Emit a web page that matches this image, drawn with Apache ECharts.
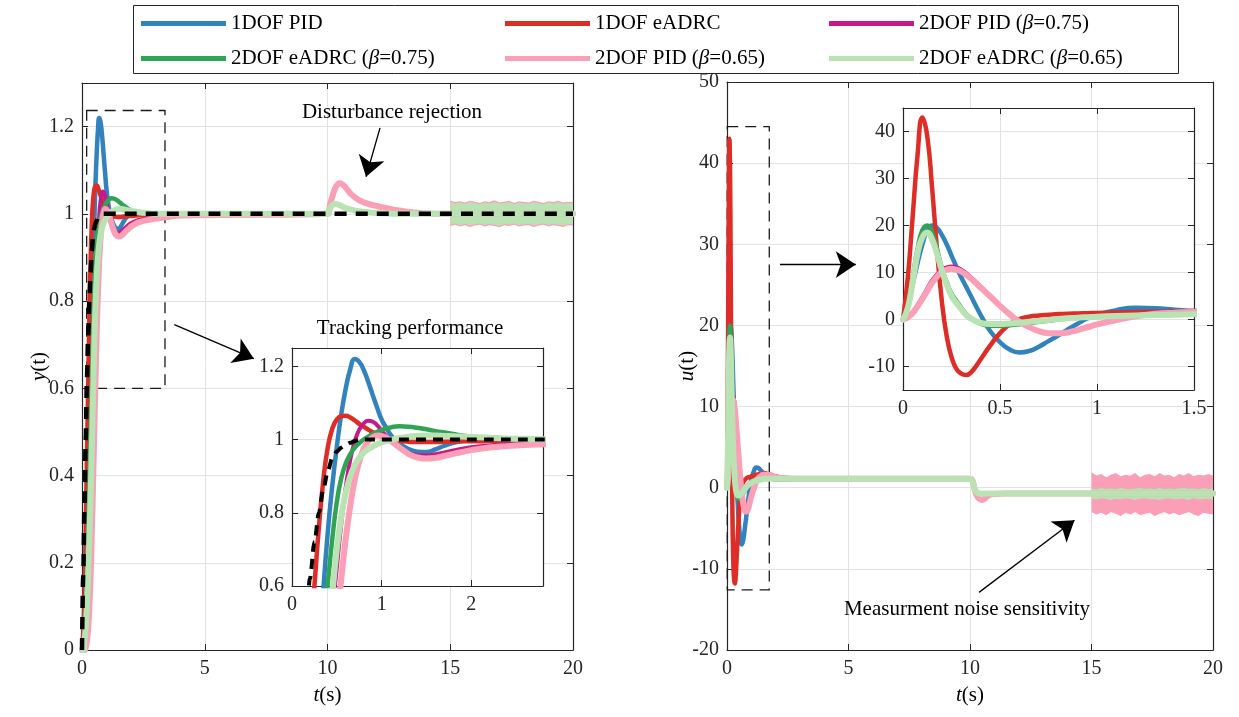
<!DOCTYPE html>
<html><head><meta charset="utf-8">
<script src="https://cdn.jsdelivr.net/npm/echarts@6/dist/echarts.min.js"></script>
<style>html,body{margin:0;padding:0;background:#fff}#c{width:1239px;height:717px}</style>
</head><body><div id="c"></div>
<script>
// ---------------- DATA ----------------
const names = ['1DOF PID','1DOF eADRC','2DOF PID (β=0.75)','2DOF eADRC (β=0.75)','2DOF PID (β=0.65)','2DOF eADRC (β=0.65)'];
// output y(t), early part
const tY = [0,0.05,0.1,0.15,0.2,0.25,0.3,0.35,0.4,0.45,0.5,0.55,0.6,0.65,0.7,0.75,0.8,0.85,0.9,0.95,1.0,1.1,1.2,1.3,1.4,1.5,1.6,1.7,1.8,1.9,2.0,2.2,2.4,2.6,2.8,3.0,3.5,4.0];
const yRef   = [0,0.17,0.33,0.48,0.62,0.72,0.8,0.865,0.915,0.95,0.967,0.978,0.985,0.991,0.996,0.999,1,1,1,1,1, 1,1,1,1,1,1,1,1,1,1, 1,1,1,1,1,1,1];
const yBlue  = [0,0,0.01,0.04,0.1,0.22,0.4,0.59,0.75,0.875,0.98,1.07,1.14,1.192,1.22,1.212,1.19,1.158,1.122,1.087,1.055, 1.013,0.989,0.974,0.967,0.966,0.973,0.983,0.991,0.996,0.999, 1,1,1,1,1,1,1];
const yRed   = [0,0.04,0.13,0.27,0.44,0.6,0.76,0.89,0.98,1.03,1.055,1.064,1.065,1.06,1.052,1.043,1.035,1.027,1.02,1.013,1.007, 1.0,0.996,0.994,0.993,0.993,0.993,0.994,0.994,0.995,0.995, 0.996,0.997,0.997,0.998,0.998,0.999,1.0];
const yMag   = [0,0,0.005,0.02,0.05,0.1,0.18,0.28,0.4,0.53,0.65,0.77,0.87,0.945,0.995,1.027,1.044,1.051,1.049,1.039,1.024, 0.997,0.977,0.964,0.958,0.957,0.96,0.965,0.97,0.975,0.979, 0.984,0.987,0.989,0.99,0.991,0.994,0.997];
const yGreen = [0,0.01,0.04,0.1,0.18,0.28,0.39,0.5,0.61,0.73,0.83,0.895,0.935,0.96,0.978,0.99,1.0,1.008,1.015,1.021,1.026, 1.033,1.036,1.035,1.032,1.028,1.023,1.019,1.015,1.011,1.008, 1.004,1.002,1.001,1.0,1.0,1.0,1.0];
const yPink  = [0,0,0,0.005,0.02,0.05,0.1,0.17,0.27,0.38,0.5,0.62,0.73,0.82,0.89,0.94,0.975,0.995,1.006,1.011,1.01, 0.997,0.978,0.961,0.951,0.948,0.95,0.955,0.961,0.966,0.971, 0.978,0.982,0.985,0.987,0.989,0.993,0.996];
const yLG    = [0,0,0.02,0.05,0.1,0.17,0.26,0.35,0.46,0.58,0.7,0.79,0.855,0.9,0.93,0.95,0.964,0.974,0.981,0.987,0.992, 0.999,1.004,1.008,1.01,1.011,1.011,1.01,1.009,1.008,1.007, 1.005,1.003,1.002,1.001,1.0,1.0,1.0];
// output y(t), disturbance part
const tYLate    = [10,10.1,10.2,10.3,10.4,10.5,10.6,10.7,10.8,11.0,11.3,11.6,12.0,12.5,13.0,13.5,14.0,15.0,20.0];
const yDistPID  = [1.0,1.02,1.04,1.057,1.067,1.07,1.068,1.063,1.056,1.043,1.031,1.024,1.018,1.012,1.007,1.003,1.001,1.0,1.0];
const yDistADRC = [1.0,1.012,1.02,1.023,1.022,1.02,1.017,1.014,1.012,1.009,1.006,1.004,1.002,1.001,1.0,1.0,1.0,1.0,1.0];
// control u(t), early part
const tU = [0,0.025,0.05,0.075,0.1,0.125,0.15,0.175,0.2,0.225,0.25,0.275,0.3,0.325,0.35,0.4,0.45,0.5,0.55,0.6,0.65,0.7,0.75,0.8,0.85,0.9,0.95,1.0,1.1,1.2,1.3,1.4,1.5,1.7,2.0,2.5,3.0,4.0];
const uBlue  = [0,3,7.5,12,16,19,20,19.5,18,16,13.6,11.2,9,7,5, 1,-2.5,-4.8,-6.4,-7.0,-6.7,-5.8,-4.6,-3.4,-2.1,-0.9,0.2,1.0, 2.0,2.5,2.4,2.1,1.8, 1.3,1.0,1.0,1.1,1.1];
const uRed   = [0,9,22,35,43,39,28,15,4,-3.5,-8,-10.5,-11.5,-11.8,-11.3, -8.5,-5.5,-2.9,-1.0,0.1,0.6,0.85,1.0,1.15,1.25,1.3,1.35,1.4, 1.5,1.6,1.65,1.7,1.8, 1.7,1.4,1.2,1.1,1.1];
const uMag   = [0,0.6,1.6,3.1,4.8,6.6,8.3,9.6,10.6,11.1,11.3,11.1,10.6,9.9,9.0, 7.0,5.0,3.0,1.2,-0.4,-1.6,-2.5,-2.95,-3.0,-2.8,-2.3,-1.7,-1.1, -0.1,0.7,1.2,1.5,1.65, 1.6,1.3,1.15,1.1,1.1];
const uGreen = [0,3,9,15,19,20,18.5,15,11,8,5.5,4,2.5,1.2,0.3, -0.9,-1.35,-1.35,-1.2,-1.0,-0.75,-0.5,-0.25,0,0.2,0.35,0.5,0.6, 0.75,0.85,0.95,1.0,1.1, 1.1,1.1,1.1,1.1,1.1];
const uPink  = [0,0.5,1.4,2.8,4.4,6.1,7.8,9.1,10.1,10.6,10.8,10.6,10.2,9.5,8.7, 6.8,4.9,2.9,1.1,-0.5,-1.6,-2.45,-2.9,-2.95,-2.75,-2.25,-1.65,-1.05, -0.1,0.7,1.2,1.45,1.6, 1.6,1.3,1.15,1.1,1.1];
const uLG    = [0,2.5,8,14,17.5,18.5,17,14,10.5,7.5,5,3.5,2.2,1.0,0.2, -0.7,-0.95,-0.95,-0.85,-0.7,-0.5,-0.3,-0.1,0.1,0.25,0.4,0.5,0.6, 0.75,0.85,0.95,1.0,1.1, 1.1,1.1,1.1,1.1,1.1];
// control u(t), disturbance part
const tULate    = [10,10.1,10.2,10.3,10.4,10.5,10.6,10.7,10.8,11,11.5,12,15,20];
const uDistPID  = [1.1,0.9,-0.3,-1.1,-1.4,-1.5,-1.35,-1.1,-0.9,-0.78,-0.72,-0.72,-0.72,-0.72];
const uDistADRC = [1.1,0.85,-0.2,-0.62,-0.72,-0.74,-0.73,-0.72,-0.72,-0.72,-0.72,-0.72,-0.72,-0.72];
// measurement-noise envelopes (t >= 15)
const tNoise = [15,15.2,15.4,15.6,15.8,16,16.2,16.4,16.6,16.8,17,17.2,17.4,17.6,17.8,18,18.2,18.4,18.6,18.8,19,19.2,19.4,19.6,19.8,20];
const yHiP = [1.03,1.027,1.029,1.026,1.03,1.028,1.025,1.029,1.027,1.031,1.026,1.028,1.03,1.025,1.029,1.027,1.026,1.03,1.028,1.025,1.029,1.027,1.03,1.026,1.028,1.027];
const yLoP = [0.972,0.975,0.971,0.974,0.97,0.973,0.975,0.971,0.974,0.972,0.969,0.974,0.972,0.975,0.971,0.973,0.974,0.97,0.973,0.975,0.971,0.974,0.972,0.97,0.974,0.973];
const yHiG = [1.027,1.024,1.026,1.023,1.027,1.025,1.022,1.026,1.024,1.028,1.023,1.025,1.027,1.022,1.026,1.024,1.023,1.027,1.025,1.022,1.026,1.024,1.027,1.023,1.025,1.024];
const yLoG = [0.975,0.978,0.974,0.977,0.973,0.976,0.978,0.974,0.977,0.975,0.972,0.977,0.975,0.978,0.974,0.976,0.977,0.973,0.976,0.978,0.974,0.977,0.975,0.973,0.977,0.976];
const uHiP = [1.9,1.5,1.7,1.3,1.6,1.8,1.4,1.6,1.5,1.8,1.3,1.6,1.7,1.4,1.8,1.5,1.6,1.3,1.7,1.5,1.8,1.4,1.6,1.5,1.7,1.5];
const uLoP = [-3.0,-3.3,-3.1,-3.4,-3.0,-3.2,-3.5,-3.1,-3.3,-3.0,-3.4,-3.2,-3.1,-3.5,-3.2,-3.0,-3.3,-3.1,-3.4,-3.2,-3.0,-3.3,-3.5,-3.1,-3.2,-3.3];
const uHiG = [-0.1,-0.2,-0.05,-0.15,-0.1,-0.2,-0.05,-0.15,-0.2,-0.1,-0.05,-0.15,-0.1,-0.2,-0.05,-0.15,-0.1,-0.2,-0.1,-0.05,-0.15,-0.1,-0.2,-0.05,-0.15,-0.1];
const uLoG = [-1.35,-1.45,-1.3,-1.4,-1.5,-1.35,-1.45,-1.3,-1.4,-1.5,-1.35,-1.3,-1.45,-1.4,-1.5,-1.35,-1.3,-1.45,-1.4,-1.35,-1.5,-1.3,-1.45,-1.4,-1.35,-1.45];
// tick settings
const xTicksMain = {min:0,max:20,interval:5};
const yTicksLeft = {min:0,max:1.3,interval:0.2};
const yTicksRight = {min:-20,max:50,interval:10};
const xTicksInsL = {min:0,max:2.8,interval:1};
const yTicksInsL = {min:0.6,max:1.25,interval:0.2};
const xTicksInsR = {min:0,max:1.5,interval:0.5};
const yTicksInsR = {min:-15,max:45,interval:10};
const yTickValsInsR = [-10,0,10,20,30,40];

// ---------------- STYLE / BUILD ----------------
const FONT = 'Liberation Serif';
const AX = '#262626';
const colors = ['#3182bd','#de2d26','#c51b8a','#31a354','#fa9fb5','#b9e3b2'];
const widths = [4.5,4.5,4,4.5,6,6];
const zip = (t, v) => t.map((x, i) => [x, v[i]]);
const yData = [
  zip(tY,yBlue).concat(zip(tYLate,yDistPID)),
  zip(tY,yRed).concat(zip(tYLate,yDistADRC)),
  zip(tY,yMag).concat(zip(tYLate,yDistPID)),
  zip(tY,yGreen).concat(zip(tYLate,yDistADRC)),
  zip(tY,yPink).concat(zip(tYLate,yDistPID)),
  zip(tY,yLG).concat(zip(tYLate,yDistADRC))
];
const uData = [
  zip(tU,uBlue).concat(zip(tULate,uDistPID)),
  zip(tU,uRed).concat(zip(tULate,uDistADRC)),
  zip(tU,uMag).concat(zip(tULate,uDistPID)),
  zip(tU,uGreen).concat(zip(tULate,uDistADRC)),
  zip(tU,uPink).concat(zip(tULate,uDistPID)),
  zip(tU,uLG).concat(zip(tULate,uDistADRC))
];
const refData = zip(tY, yRef).concat([[20,1]]);

const labelStyle = {fontFamily:FONT, fontSize:20, color:AX};
function mkX(gi, t, pos, opts){
  const main = pos === 'bottom';
  return Object.assign({type:'value', gridIndex:gi, position:pos, min:t.min, max:t.max, interval:t.interval,
    axisLine:{show:true, onZero:false, lineStyle:{color:AX, width:1.2}},
    axisTick:{show:true, inside:true, length:6, lineStyle:{color:AX}},
    axisLabel:{show:main, margin:9, showMaxLabel:true, ...labelStyle},
    splitLine:{show:main, lineStyle:{color:'#e2e2e2', width:1}}}, opts||{});
}
function mkY(gi, t, pos, opts){
  const main = pos === 'left';
  return Object.assign({type:'value', gridIndex:gi, position:pos, min:t.min, max:t.max, interval:t.interval,
    axisLine:{show:true, onZero:false, lineStyle:{color:AX, width:1.2}},
    axisTick:{show:true, inside:true, length:6, lineStyle:{color:AX}},
    axisLabel:{show:main, margin:8, ...labelStyle},
    splitLine:{show:main, lineStyle:{color:'#e2e2e2', width:1}}}, opts||{});
}
const nameStyle = {fontFamily:FONT, fontSize:21, color:'#000',
  rich:{i:{fontFamily:FONT, fontSize:21, fontStyle:'italic', color:'#000'}}};

const xAxes = [
  mkX(0, xTicksMain, 'bottom', {name:'{i|t}(s)', nameLocation:'middle', nameGap:35, nameMoveOverlap:false, nameTextStyle:nameStyle}),
  mkX(1, xTicksMain, 'bottom', {name:'{i|t}(s)', nameLocation:'middle', nameGap:35, nameMoveOverlap:false, nameTextStyle:nameStyle}),
  mkX(2, xTicksInsL, 'bottom', {z:2, axisLabel:{show:true, margin:9, showMaxLabel:false, ...labelStyle}}),
  mkX(3, xTicksInsR, 'bottom', {z:2}),
  mkX(0, xTicksMain, 'top'), mkX(1, xTicksMain, 'top'),
  mkX(2, xTicksInsL, 'top', {z:2}), mkX(3, xTicksInsR, 'top', {z:2})
];
const tickInsR = {show:true, inside:true, length:6, lineStyle:{color:AX}, customValues:yTickValsInsR};
const yAxes = [
  mkY(0, yTicksLeft, 'left', {name:'{i|y}(t)', nameLocation:'middle', nameGap:32, nameMoveOverlap:false, nameTextStyle:nameStyle,
      axisLabel:{show:true, margin:8, showMaxLabel:false, ...labelStyle}}),
  mkY(1, yTicksRight, 'left', {name:'{i|u}(t)', nameLocation:'middle', nameGap:29, nameMoveOverlap:false, nameTextStyle:nameStyle}),
  mkY(2, yTicksInsL, 'left', {z:2, axisLabel:{show:true, margin:8, showMaxLabel:false, ...labelStyle}}),
  mkY(3, yTicksInsR, 'left', {z:2, axisTick:tickInsR,
      axisLabel:{show:true, margin:8, customValues:yTickValsInsR, ...labelStyle}}),
  mkY(0, yTicksLeft, 'right'), mkY(1, yTicksRight, 'right'),
  mkY(2, yTicksInsL, 'right', {z:2}), mkY(3, yTicksInsR, 'right', {z:2, axisTick:tickInsR})
];

function line(i, data, xi, yi, z, extra){
  return Object.assign({type:'line', name:names[i], data, xAxisIndex:xi, yAxisIndex:yi, z,
    showSymbol:false, symbol:'none', smooth:0.5, clip:true, silent:true,
    color:colors[i], lineStyle:{color:colors[i], width:widths[i], cap:'round', join:'round'}}, extra||{});
}
function band(hi, lo, color, xi, yi, z){
  return {type:'custom', data:[[tNoise[0], hi[0]]], xAxisIndex:xi, yAxisIndex:yi, z, silent:true,
    renderItem:(params, api) => {
      const pts = [];
      for (let k = 0; k < tNoise.length; k++) pts.push(api.coord([tNoise[k], hi[k]]));
      for (let k = tNoise.length - 1; k >= 0; k--) pts.push(api.coord([tNoise[k], lo[k]]));
      return {type:'polygon', shape:{points:pts}, style:{fill:color}};
    }};
}
const boxStyle = {color:'rgba(0,0,0,0)', borderColor:'#1a1a1a', borderWidth:1.3, borderType:[11,7]};
const arrowML = (pairs) => ({silent:true, symbol:['none','arrow'], symbolSize:20, label:{show:false},
  lineStyle:{color:'#000', width:1.3, type:'solid'}, animation:false,
  data: pairs.map(p => [{coord:p[0]}, {coord:p[1]}])});

const series = [];
// left main (y)
for (let i = 0; i < 6; i++) series.push(line(i, yData[i], 0, 0, 2));
series.push(band(yHiP, yLoP, colors[4], 0, 0, 2));
series.push(band(yHiG, yLoG, colors[5], 0, 0, 2));
series.push({type:'line', name:'ref', data:refData, xAxisIndex:0, yAxisIndex:0, z:3, showSymbol:false, symbol:'none',
  smooth:0.3, smoothMonotone:'x', silent:true, lineStyle:{color:'#000', width:4.5, type:[12,9], cap:'butt'},
  markArea:{silent:true, label:{show:false}, itemStyle:boxStyle, data:[[{coord:[0.19,1.237]},{coord:[3.38,0.6]}]]},
  markLine:arrowML([[[3.76,0.746],[7.0,0.668]], [[12.14,1.197],[11.57,1.085]]])});
// right main (u)
for (let i = 0; i < 6; i++) {
  const extra = i === 0 ? {markArea:{silent:true, label:{show:false}, itemStyle:boxStyle, data:[[{coord:[0.01,44.5]},{coord:[1.74,-12.6]}]]},
    markLine:arrowML([[[2.18,27.5],[5.3,27.5]], [[10.37,-12.9],[14.3,-4.0]]])} : {};
  series.push(line(i, uData[i], 1, 1, 2, extra));
}
series.push(band(uHiP, uLoP, colors[4], 1, 1, 2));
series.push(band(uHiG, uLoG, colors[5], 1, 1, 2));
// left inset (y)
for (let i = 0; i < 6; i++) series.push(line(i, yData[i], 2, 2, 5));
series.push({type:'line', name:'ref', data:refData, xAxisIndex:2, yAxisIndex:2, z:6, showSymbol:false, symbol:'none',
  smooth:0.3, smoothMonotone:'x', clip:true, silent:true, lineStyle:{color:'#000', width:4, type:[10,7], cap:'butt'}});
// right inset (u)
for (let i = 0; i < 6; i++) series.push(line(i, uData[i], 3, 3, 5));

const legendText = {fontFamily:FONT, fontSize:21, color:'#000',
  rich:{i:{fontFamily:FONT, fontSize:21, fontStyle:'italic', color:'#000'}}};
const legCols = [141, 505, 829];
const legRows = [13, 48];
const legends = names.map((n, k) => ({data:[n], left:legCols[k % 3], top:legRows[Math.floor(k / 3)], padding:0,
  icon:'rect', itemWidth:85, itemHeight:5, selectedMode:false, textStyle:legendText,
  formatter: s => s.replace('β', '{i|β}')}));

const txt = (s, x, y) => ({type:'text', x, y, z:10, style:{text:s, fontFamily:FONT, fontSize:21, fill:'#000', align:'center', verticalAlign:'middle'}});

const option = {
  animation:false,
  backgroundColor:'#fff',
  grid:[
    {left:82, top:83, width:491, height:567},
    {left:727, top:82, width:486, height:568},
    {left:292, top:348, width:251, height:238, show:true, backgroundColor:'#fff', borderWidth:0, z:1},
    {left:903, top:108, width:291, height:282, show:true, backgroundColor:'#fff', borderWidth:0, z:1}
  ],
  xAxis:xAxes, yAxis:yAxes, legend:legends, series,
  graphic:[
    {type:'rect', z:0, shape:{x:133.5, y:5.5, width:1045, height:68}, style:{fill:'#fff', stroke:AX, lineWidth:1}},
    txt('Disturbance rejection', 392, 112),
    txt('Tracking performance', 410, 328),
    txt('Measurment noise sensitivity', 967, 609)
  ]
};
const chart = echarts.init(document.getElementById('c'), null, {renderer:'canvas'});
chart.setOption(option);
</script></body></html>
